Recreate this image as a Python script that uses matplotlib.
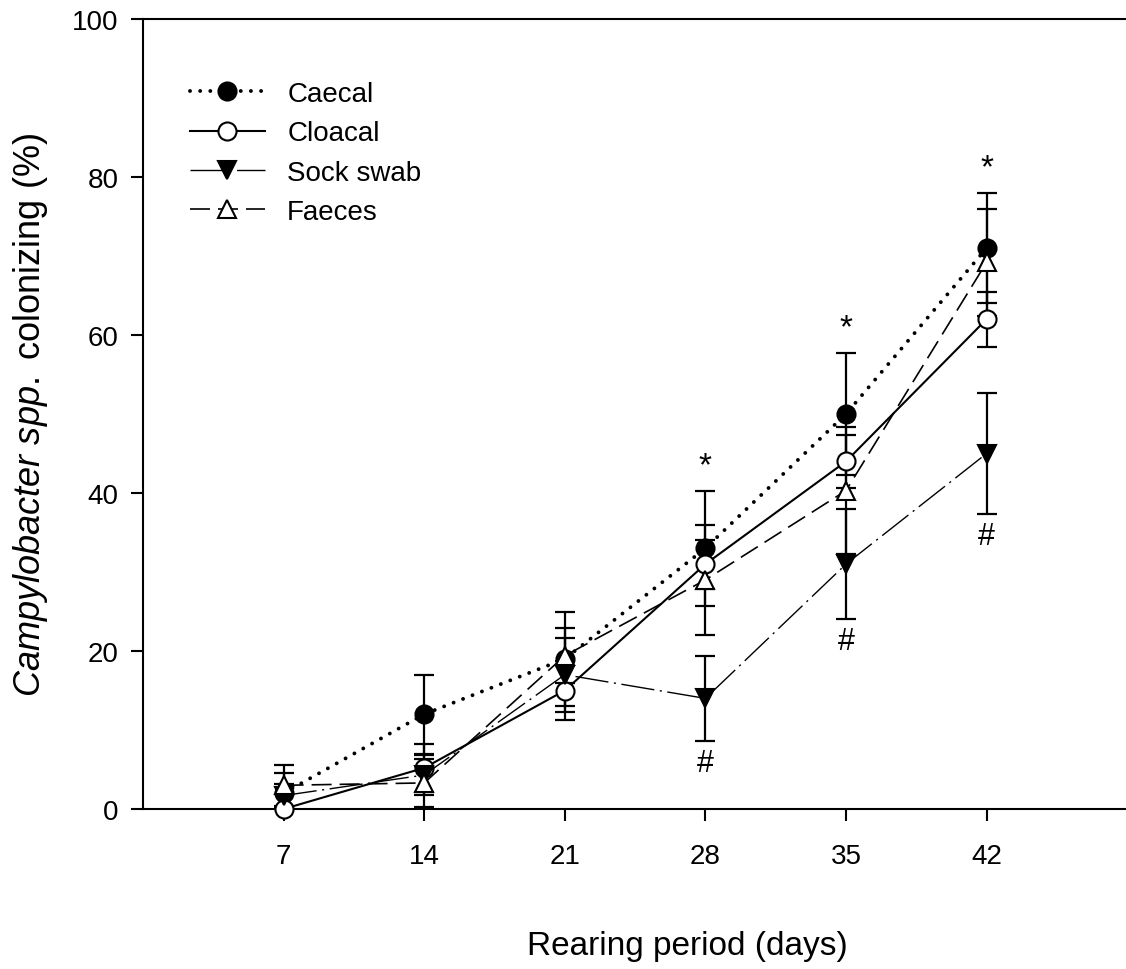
import matplotlib
matplotlib.use("Agg")
import matplotlib.pyplot as plt
import numpy as np

# ---- data ----
days = [7, 14, 21, 28, 35, 42]
caecal = [2.0, 12.0, 19.0, 33.0, 50.0, 71.0]
caecal_err = [2.6, 5.0, 6.0, 7.3, 7.7, 7.0]
cloacal = [0.0, 5.2, 15.0, 31.0, 44.0, 62.0]
cloacal_err = [0.0, 3.0, 3.7, 3.1, 3.4, 3.5]
sock = [1.7, 4.3, 17.0, 14.0, 31.0, 45.0]
sock_err = [1.5, 2.5, 4.7, 5.4, 7.0, 7.7]
faeces = [3.0, 3.3, 19.4, 29.0, 40.3, 69.2]
faeces_err = [2.6, 3.0, 3.5, 7.0, 8.0, 6.8]
star_days = [28, 35, 42]     # significance marks "*"
hash_days = [28, 35, 42]     # significance marks "#"
xticks = [7, 14, 21, 28, 35, 42]
yticks = [0, 20, 40, 60, 80, 100]

plt.rcParams['font.family'] = ['Liberation Sans', 'DejaVu Sans']
plt.rcParams['mathtext.fontset'] = 'custom'
plt.rcParams['mathtext.rm'] = 'Liberation Sans'
plt.rcParams['mathtext.it'] = 'Liberation Sans:italic'

W, H = 1126, 970
fig = plt.figure(figsize=(W / 100, H / 100), dpi=100)
x0, x1 = 143, 1127.2
ytop, ybot = 20, 810
ax = fig.add_axes([x0 / W, (H - ybot) / H, (x1 - x0) / W, (ybot - ytop) / H])

ax.set_xlim(0, 49)
ax.set_ylim(0, 100)

series = [
    ("Caecal", caecal, caecal_err, dict(marker='o', mfc='black', mec='black',
                                        lw=2.8, dashes=(0.01, 2.6), dash_capstyle='round')),
    ("Cloacal", cloacal, cloacal_err, dict(marker='o', mfc='white', mec='black', lw=1.5, ls='-')),
    ("Sock swab", sock, sock_err, dict(marker='v', mfc='black', mec='black',
                                       lw=1.0, dashes=(24, 4, 1.5, 4))),
    ("Faeces", faeces, faeces_err, dict(marker='^', mfc='white', mec='black',
                                        lw=1.2, dashes=(12, 4.8))),
]

for name, vals, errs, st in series:
    ax.errorbar(days, vals, yerr=errs, fmt='none', ecolor='black', elinewidth=1.6,
                capsize=7.5, capthick=1.6, zorder=2)

handles = []
for i, (name, vals, errs, st) in enumerate(series):
    h, = ax.plot(days, vals, color='black', markersize=13, markeredgewidth=1.5,
                 label=name, zorder=3 + i, clip_on=False, **st)
    handles.append(h)

# significance marks
px = 72 / 100.0  # points per pixel
for d in star_days:
    i = days.index(d)
    top = max(caecal[i] + caecal_err[i], cloacal[i] + cloacal_err[i],
              sock[i] + sock_err[i], faeces[i] + faeces_err[i])
    ax.annotate('*', xy=(d, top), xytext=(0, 14 * px + 8), textcoords='offset points',
                ha='center', va='center', fontsize=24)
for d in hash_days:
    i = days.index(d)
    low = sock[i] - sock_err[i]
    ax.annotate('#', xy=(d, low), xytext=(0, -22 * px), textcoords='offset points',
                ha='center', va='center', fontsize=22)

# axes styling
for s in ['left', 'bottom', 'top']:
    ax.spines[s].set_linewidth(1.5)
ax.spines['right'].set_visible(False)
ax.set_xticks(xticks)
ax.set_xticklabels([str(t) for t in xticks])
ax.set_yticks(yticks)
ax.set_yticklabels([str(t) for t in yticks])
ax.tick_params(axis='x', direction='out', length=8.5, width=1.5, pad=16, labelsize=20)
ax.tick_params(axis='y', direction='out', length=8.5, width=1.5, pad=9, labelsize=20)
ax.tick_params(top=False, right=False)

ax.set_xlabel('Rearing period (days)', fontsize=24)
ax.xaxis.set_label_coords((687 - x0) / (x1 - x0), -(947 - ybot) / (ybot - ytop))
ax.xaxis.label.set_va('center')
ax.set_ylabel(r'$\it{Campylobacter\ spp.}$ colonizing (%)', fontsize=26)
ax.yaxis.set_label_coords(-(143 - 30) / (x1 - x0), 0.5)
ax.yaxis.label.set_va('center')

leg = ax.legend(handles=handles, loc='upper left',
                bbox_to_anchor=(190 / W, 1 - 82 / H), bbox_transform=fig.transFigure,
                frameon=False, fontsize=20, handlelength=2.7, handletextpad=0.8,
                labelspacing=0.48, borderpad=0, borderaxespad=0, markerscale=1.0)

fig.savefig('out.png', dpi=100)
